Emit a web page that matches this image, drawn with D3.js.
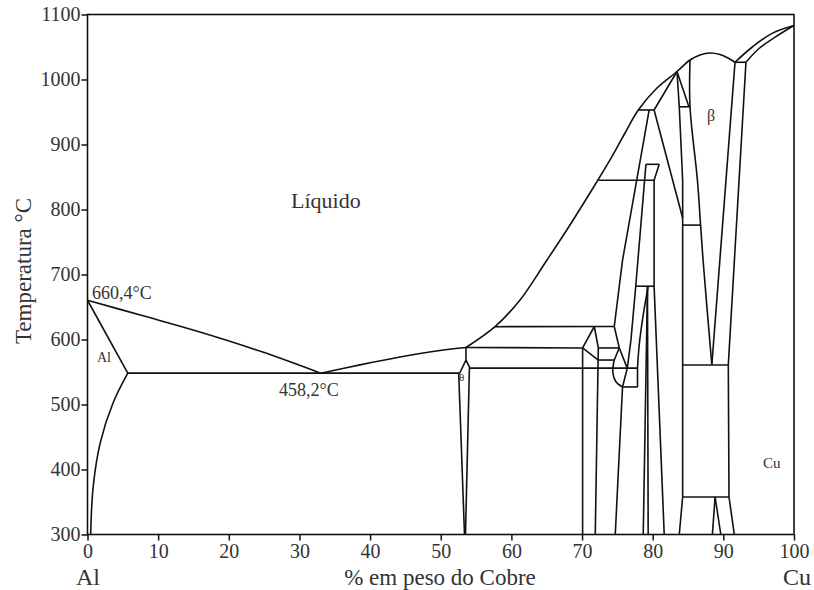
<!DOCTYPE html>
<html>
<head>
<meta charset="utf-8">
<script src="https://cdn.jsdelivr.net/npm/d3@7"></script>
<style>
  html, body { margin: 0; padding: 0; background: #fff; }
  svg text { font-family: "Liberation Serif", "Times New Roman", serif; fill: #333; }
</style>
</head>
<body>
<svg id="chart" width="814" height="590"></svg>
<script>
// Ticks
const xTicks = [0, 10, 20, 30, 40, 50, 60, 70, 80, 90, 100];
const yTicks = [300, 400, 500, 600, 700, 800, 900, 1000, 1100];

// Phase boundaries, [wt% Cu, °C]
const liquidusAl = [[0, 660.4], [8, 636], [15.9, 611.5], [24.7, 581], [33, 548.2]];
const solidusAl = [[0, 660.4], [5.7, 548.2]];
const solvusAl = [[5.7, 548.2], [3.6, 502], [1.8, 441], [0.8, 373], [0.45, 300]];
const eutecticAl = [[5.7, 548.2], [52.6, 548.2]];
const liquidusTheta = [[33, 548.2], [38.57, 561], [44.23, 573], [49.89, 583], [53.57, 587.7]];
const liquidusCu = [[53.57, 587.7], [57.68, 619.7], [61.22, 660.8], [64.76, 717.7], [68.29, 776.2],
  [71.12, 825.4], [73.96, 876.2], [76.08, 917.7], [77.96, 953.1], [80.61, 986.9], [83.44, 1012.3],
  [85.28, 1030], [86.69, 1037.7], [88.11, 1040.8], [89.53, 1038.5], [90.66, 1033.1], [91.65, 1026.5]];
const liquidusCuEnd = [[91.65, 1026.5], [94.1, 1050], [96.9, 1071], [100, 1083]];
const solidusCuEnd = [[93.2, 1026.5], [95.05, 1047.7], [97.45, 1066], [100, 1083]];
const peritecticCu = [[91.65, 1026.5], [93.2, 1026.5]];
const betaRight = [[91.65, 1026.5], [88.37, 560.8]];
const cuSolvus = [[93.2, 1026.5], [90.7, 560.8], [90.8, 357.7], [91.55, 300]];
const betaLeft = [[85.28, 1030], [85.28, 958], [86.33, 845], [86.78, 776], [87.13, 722], [88.37, 560.8]];
const eutectoidBeta = [[84.24, 560.8], [90.7, 560.8]];
const tie358 = [[84.24, 357.7], [90.8, 357.7]];
const lowV1 = [[88.83, 357.7], [88.45, 300]];
const lowV2 = [[88.83, 357.7], [89.64, 300]];
const line84 = [[83.44, 1012.3], [83.76, 958], [84.24, 845], [84.24, 357.7], [83.76, 300]];
const tie958 = [[83.76, 958], [85.28, 958]];
const diag1012 = [[83.44, 1012.3], [85.1, 959]];
const tie776 = [[84.24, 776], [86.78, 776]];
const tie953 = [[77.96, 953.1], [80.2, 953.1]];
const rise953 = [[80.2, 953.1], [83.44, 1012.3]];
const diag953 = [[80.2, 953.1], [84.24, 787]];
const line75 = [[79.5, 953.1], [75.73, 722], [74.56, 620]];
const tie870 = [[79.04, 869.5], [80.92, 869.5]];
const line80 = [[80.92, 869.5], [80.2, 845], [80.2, 682]];
const tie682 = [[77.6, 682], [80.2, 682]];
const line77 = [[79.04, 869.5], [77.6, 682], [76.92, 599], [76.4, 556], [75.73, 527], [74.7, 300]];
const tie845 = [[72.3, 845], [80.2, 845]];
const tie620 = [[57.68, 619.7], [74.56, 620]];
const tie587 = [[53.57, 587.7], [70.08, 587]];
const peakA = [[70.08, 587], [71.73, 620]];
const peakB = [[71.73, 620], [72.3, 587], [71.87, 300]];
const line70 = [[70.08, 587], [70.08, 300]];
const peakC = [[70.08, 587], [72.3, 568.4]];
const tie587b = [[72.3, 587], [75.27, 587]];
const tie568 = [[72.3, 568.4], [74.56, 568.4]];
const peakD = [[74.56, 620], [75.27, 587], [74.56, 568.4]];
const peakE = [[75.27, 587], [76.4, 556]];
const arc75 = [[74.56, 568.4], [74.35, 550], [74.77, 535.4], [75.73, 527]];
const tie556 = [[54.06, 556], [77.85, 556]];
const tie527 = [[75.73, 527], [77.85, 527]];
const box78 = [[77.85, 556], [77.85, 527]];
const curve79 = [[79.36, 682], [78.66, 637.7], [78.09, 591.5], [77.85, 556]];
const v79L = [[79.26, 682], [78.66, 300]];
const v79R = [[79.26, 682], [79.36, 300]];
const line81 = [[80.2, 682], [81.63, 300]];
const thetaTop = [[53.57, 587.7], [53.57, 568.4]];
const thetaLeft = [[53.57, 568.4], [52.55, 545.4], [53.36, 300]];
const thetaRight = [[53.57, 568.4], [54.06, 558], [53.5, 300]];

const curved = [liquidusAl, solvusAl, liquidusTheta, liquidusCu, liquidusCuEnd, solidusCuEnd, betaLeft, arc75, curve79];
const straight = [solidusAl, eutecticAl, peritecticCu, betaRight, cuSolvus, eutectoidBeta, tie358,
  lowV1, lowV2, line84, tie958, diag1012, tie776, tie953, rise953, diag953, line75, tie870, line80,
  tie682, line77, tie845, tie620, tie587, peakA, peakB, line70, peakC, tie587b, tie568, peakD, peakE,
  tie556, tie527, box78, v79L, v79R, line81, thetaTop, thetaLeft, thetaRight];

const svg = d3.select("#chart");
const x = d3.scaleLinear().domain([0, 100]).range([87.5, 794]);
const y = d3.scaleLinear().domain([300, 1100]).range([534.5, 14.5]);

const plot = svg.append("g");
const smoothLine = d3.line().x(d => x(d[0])).y(d => y(d[1])).curve(d3.curveCatmullRom.alpha(0.5));
const flatLine = d3.line().x(d => x(d[0])).y(d => y(d[1]));

plot.selectAll("path.c").data(curved).join("path").attr("class", "c")
  .attr("d", smoothLine).attr("fill", "none").attr("stroke", "#111").attr("stroke-width", 1.6);
plot.selectAll("path.s").data(straight).join("path").attr("class", "s")
  .attr("d", flatLine).attr("fill", "none").attr("stroke", "#111").attr("stroke-width", 1.6)
  .attr("stroke-linejoin", "round");

// Frame
svg.append("rect")
  .attr("x", x(0)).attr("y", y(1100))
  .attr("width", x(100) - x(0)).attr("height", y(300) - y(1100))
  .attr("fill", "none").attr("stroke", "#111").attr("stroke-width", 1.6);

// Axes
const ax = svg.append("g").attr("transform", `translate(0,${y(300)})`)
  .call(d3.axisBottom(x).tickValues(xTicks).tickFormat(d3.format("d")).tickSize(6).tickPadding(3));
const ay = svg.append("g").attr("transform", `translate(${x(0)},0)`)
  .call(d3.axisLeft(y).tickValues(yTicks).tickFormat(d3.format("d")).tickSize(6).tickPadding(1));
[ax, ay].forEach(g => {
  g.select(".domain").remove();
  g.selectAll(".tick line").attr("stroke", "#111").attr("stroke-width", 1.5);
  g.selectAll(".tick text").attr("font-size", 20).attr("fill", "#333")
    .style("font-family", '"Liberation Serif", serif');
});

// Titles and labels
svg.append("text").attr("transform", "translate(31,271) rotate(-90)")
  .attr("text-anchor", "middle").attr("font-size", 23).text("Temperatura °C");
svg.append("text").attr("x", 440).attr("y", 585).attr("text-anchor", "middle")
  .attr("font-size", 23).text("% em peso do Cobre");
svg.append("text").attr("x", 76).attr("y", 585).attr("font-size", 24).text("Al");
svg.append("text").attr("x", 783).attr("y", 585).attr("font-size", 24).text("Cu");

svg.append("text").attr("x", 291).attr("y", 208).attr("font-size", 22).text("Líquido");
svg.append("text").attr("x", 92).attr("y", 299).attr("font-size", 18).text("660,4°C");
svg.append("text").attr("x", 279).attr("y", 396).attr("font-size", 18).text("458,2°C");
svg.append("text").attr("x", 97).attr("y", 362).attr("font-size", 14).text("Al");
svg.append("text").attr("x", 707).attr("y", 121).attr("font-size", 16).attr("fill", "#666").text("β");
svg.append("text").attr("x", 763).attr("y", 468).attr("font-size", 15).text("Cu");
svg.append("text").attr("x", 459).attr("y", 381).attr("font-size", 11).attr("fill", "#666").text("θ");
</script>
</body>
</html>
